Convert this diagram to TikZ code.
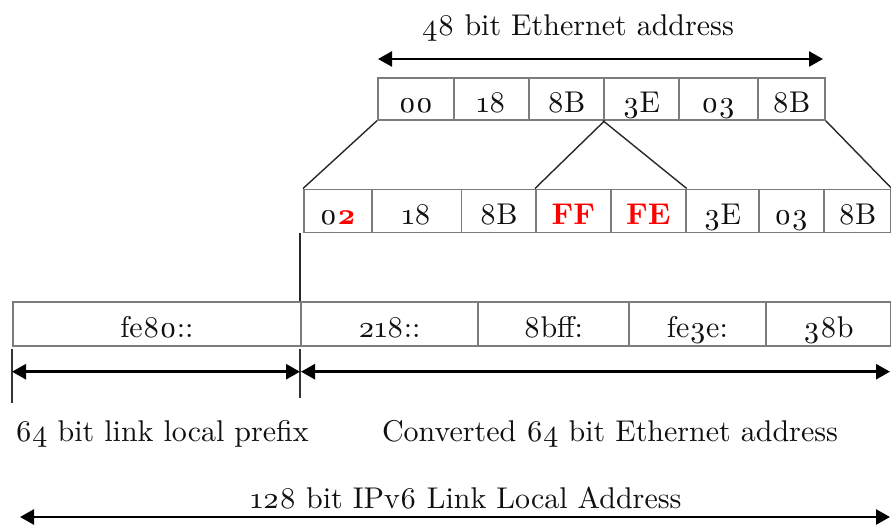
\documentclass[tikz,border=0pt]{standalone}
\usepackage{fontspec}
\setmainfont{lmroman10-regular.otf}[Numbers=OldStyle, BoldFont=lmroman10-bold.otf]
\usetikzlibrary{arrows.meta}
\definecolor{cellgray}{HTML}{7C7C7C}
\definecolor{hexred}{HTML}{FF0000}
\definecolor{inkdark}{HTML}{101010}
\newcommand{\hot}[1]{\textbf{\color{hexred}#1}}
\begin{document}
\begin{tikzpicture}[x=1pt,y=-1pt,
  txt/.style={font=\fontsize{30}{34}\selectfont, text=inkdark},
  cell/.style={txt, draw=cellgray, line width=1.7pt, inner sep=0pt,
    text height=30pt, text depth=2pt, anchor=north west},
  toprow/.style={cell, minimum height=42pt},
  midrow/.style={cell, minimum height=43pt},
  lowrow/.style={cell, minimum height=44pt},
  fan/.style={draw=inkdark!90, line width=1.4pt},
  tick/.style={draw=inkdark!85, line width=1.4pt},
  span/.style={draw=black, line width=2.6pt,
    {Triangle[length=14pt,width=15pt]}-{Triangle[length=14pt,width=15pt]}},
  caption/.style={txt, anchor=base, inner sep=0pt}]
\useasboundingbox (0,0) rectangle (891,525);

% 48 bit MAC address
\node[toprow, minimum width=76pt] (t1) at (377,77) {00};
\node[toprow, minimum width=75pt] (t2) at (453,77) {18};
\node[toprow, minimum width=75pt] (t3) at (528,77) {8B};
\node[toprow, minimum width=75pt] (t4) at (603,77) {3E};
\node[toprow, minimum width=79pt] (t5) at (678,77) {03};
\node[toprow, minimum width=67pt] (t6) at (757,77) {8B};

% modified EUI-64
\node[midrow, minimum width=68pt]   (m1) at (303,188.5) {0\hot{2}};
\node[midrow, minimum width=89.5pt] (m2) at (371,188.5) {18};
\node[midrow, minimum width=74.5pt] (m3) at (460.5,188.5) {8B};
\node[midrow, minimum width=75pt]   (m4) at (535,188.5) {\hot{FF}};
\node[midrow, minimum width=75pt]   (m5) at (610,188.5) {\hot{FE}};
\node[midrow, minimum width=73pt]   (m6) at (685,188.5) {3E};
\node[midrow, minimum width=65pt]   (m7) at (758,188.5) {03};
\node[midrow, minimum width=67pt]   (m8) at (823,188.5) {8B};

% IPv6 link local address
\node[lowrow, minimum width=288pt] (b1) at (12,301) {fe80::};
\node[lowrow, minimum width=177pt] (b2) at (300,301) {218::};
\node[lowrow, minimum width=151pt] (b3) at (477,301) {8bff:};
\node[lowrow, minimum width=137pt] (b4) at (628,301) {fe3e:};
\node[lowrow, minimum width=125pt] (b5) at (765,301) {38b};

% fan-out lines
\draw[fan] (t1.south west) -- (m1.north west);
\draw[fan] (t3.south east) -- (m4.north west);
\draw[fan] (t4.south west) -- (m5.north east);
\draw[fan] (t6.south east) -- (m8.north east);
\draw[fan] (b2.north west) -- (b2.north west |- m1.south);

% dimension ticks and arrows
\coordinate (tickA) at (12,349);
\coordinate (tickAend) at (12,403);
\coordinate (tickB) at (300,349);
\coordinate (tickBend) at (300,398);
\draw[tick] (tickA) -- (tickAend);
\draw[tick] (tickB) -- (tickBend);

\coordinate (macL) at (378,59);
\coordinate (macR) at (823,59);
\coordinate (preL) at (12,371.7);
\coordinate (preR) at (300,371.7);
\coordinate (ifL) at (301,371.7);
\coordinate (ifR) at (890,371.7);
\coordinate (allL) at (20,517);
\coordinate (allR) at (890,517);
\draw[span] (macL) -- (macR);
\draw[span] (preL) -- (preR);
\draw[span] (ifL) -- (ifR);
\draw[span] (allL) -- (allR);

% captions
\node[caption] (capMac) at (578,35) {48 bit Ethernet address};
\node[caption] (capPre) at (162,441.7) {64 bit link local prefix};
\node[caption] (capIf) at (610,441.7) {Converted 64 bit Ethernet address};
\node[caption] (capAll) at (466,508) {128 bit IPv6 Link Local Address};
\end{tikzpicture}
\end{document}
